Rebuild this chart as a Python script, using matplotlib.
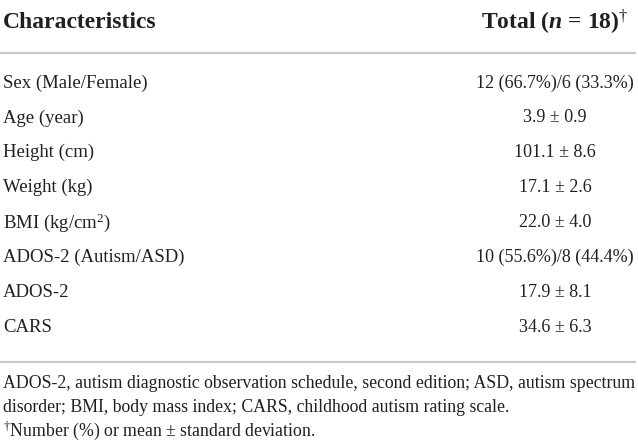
import matplotlib
matplotlib.use("Agg")
import matplotlib.pyplot as plt
from matplotlib.lines import Line2D

plt.rcParams['font.family'] = ['Liberation Serif', 'DejaVu Serif']
plt.rcParams['mathtext.fontset'] = 'custom'
plt.rcParams['mathtext.rm'] = 'Liberation Serif'
plt.rcParams['mathtext.it'] = 'Liberation Serif:italic:bold'
plt.rcParams['mathtext.bf'] = 'Liberation Serif:bold'

# --- table content
header_left = "Characteristics"
header_right = r"Total ($n$ = 18)$^{†}$"

characteristics = [
    "Sex (Male/Female)",
    "Age (year)",
    "Height (cm)",
    "Weight (kg)",
    r"BMI (kg/cm$^{2}$)",
    "ADOS-2 (Autism/ASD)",
    "ADOS-2",
    "CARS",
]
totals = [
    "12 (66.7%)/6 (33.3%)",
    "3.9 ± 0.9",
    "101.1 ± 8.6",
    "17.1 ± 2.6",
    "22.0 ± 4.0",
    "10 (55.6%)/8 (44.4%)",
    "17.9 ± 8.1",
    "34.6 ± 6.3",
]
footnotes = [
    "ADOS-2, autism diagnostic observation schedule, second edition; ASD, autism spectrum",
    "disorder; BMI, body mass index; CARS, childhood autism rating scale.",
    r"$^{†}$Number (%) or mean ± standard deviation.",
]

W, H = 638, 442
fig = plt.figure(figsize=(W / 100, H / 100), dpi=100)
ax = fig.add_axes([0, 0, 1, 1])
ax.set_xlim(0, W)
ax.set_ylim(H, 0)
ax.axis('off')

txt = '#231f20'
rule = '#c8c8c8'
x_left = 3
x_val = 555

# --- header
ax.text(x_left, 22, header_left, fontsize=17, fontweight='bold', color=txt, va='center', ha='left')
ax.text(x_val, 22, header_right, fontsize=17, fontweight='bold', color=txt, va='center', ha='center')

ax.add_line(Line2D([0, 635], [53, 53], color=rule, lw=1.6))

# --- body rows
y0, dy = 83, 34.9
for i, (c, t) in enumerate(zip(characteristics, totals)):
    y = y0 + i * dy
    ax.text(x_left, y, c, fontsize=13.5, color=txt, va='center', ha='left')
    ax.text(x_val, y, t, fontsize=13, color=txt, va='center', ha='center')

ax.add_line(Line2D([0, 635], [362, 362], color=rule, lw=1.6))

# --- footnotes
for i, f in enumerate(footnotes):
    ax.text(x_left, 384 + i * 23.5, f, fontsize=12.8, color=txt, va='center', ha='left')

fig.savefig('out.png', dpi=100)
